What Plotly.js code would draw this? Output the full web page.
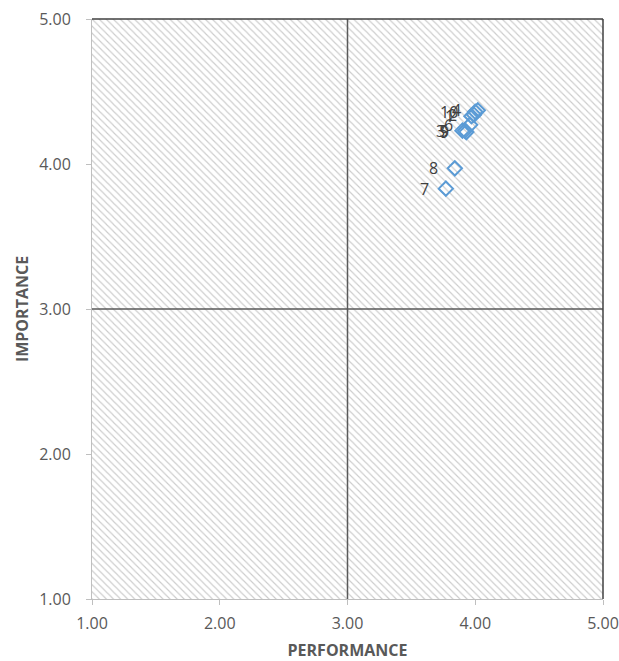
<!DOCTYPE html>
<html>
<head>
<meta charset="utf-8">
<script src="https://cdn.plot.ly/plotly-3.0.1.min.js"></script>
<style>html,body{margin:0;padding:0;background:#fff;}#chart{width:619px;height:661px;}</style>
</head>
<body>
<div id="chart"></div>
<script>
// Data
const labels = ["1", "2", "3", "4", "5", "6", "7", "8", "9", "10"];
const performance = [3.97, 3.99, 3.90, 4.02, 3.92, 3.96, 3.77, 3.84, 3.93, 4.00];
const importance  = [4.33, 4.34, 4.23, 4.37, 4.23, 4.27, 3.83, 3.97, 4.22, 4.36];
const xTicks = [1, 2, 3, 4, 5];
const yTicks = [1, 2, 3, 4, 5];
const xTickText = ["1.00", "2.00", "3.00", "4.00", "5.00"];
const yTickText = ["1.00", "2.00", "3.00", "4.00", "5.00"];
const xRange = [1, 5];
const yRange = [1, 5];
const midX = 3;  // quadrant divider
const midY = 3;

const FONT = 'Open Sans, Liberation Sans, sans-serif';

const bgTrace = {
  x: [xRange[0], xRange[1], xRange[1], xRange[0], xRange[0]],
  y: [yRange[0], yRange[0], yRange[1], yRange[1], yRange[0]],
  type: 'scatter', mode: 'none', fill: 'toself',
  fillcolor: 'rgba(255,255,255,0)',
  fillpattern: {shape: '\\', fgcolor: '#cccccc', bgcolor: '#ffffff', size: 5, solidity: 0.22},
  hoverinfo: 'skip', showlegend: false
};

const pts = {
  x: performance, y: importance,
  type: 'scatter', mode: 'markers',
  marker: {symbol: 'diamond-open', size: 11, color: '#5b9bd5', line: {width: 2, color: '#5b9bd5'}},
  showlegend: false, cliponaxis: false
};

// point labels placed to the left of each marker, built from the data arrays
const annotations = labels.map((t, i) => ({
  x: performance[i], y: importance[i], xref: 'x', yref: 'y',
  text: t, showarrow: false, xanchor: 'right', yanchor: 'middle',
  xshift: -15, font: {family: FONT, size: 16, color: '#404040'}
}));

const tickFont = {family: FONT, size: 16, color: '#595959'};
const titleFont = {family: FONT, size: 16, color: '#595959', weight: 'bold'};

const layout = {
  width: 619, height: 661,
  margin: {l: 92, r: 16, t: 19, b: 62, pad: 0},
  paper_bgcolor: '#ffffff', plot_bgcolor: '#ffffff',
  showlegend: false,
  xaxis: {
    range: xRange, tickvals: xTicks, ticktext: xTickText,
    showgrid: true, gridcolor: '#d9d9d9', griddash: 'dot', gridwidth: 1,
    zeroline: false, showline: true, linecolor: '#bfbfbf', linewidth: 1,
    ticks: 'outside', ticklen: 5, tickcolor: '#bfbfbf',
    tickfont: tickFont, ticklabelstandoff: 5,
    title: {text: 'PERFORMANCE', font: titleFont, standoff: 12}
  },
  yaxis: {
    range: yRange, tickvals: yTicks, ticktext: yTickText,
    showgrid: true, gridcolor: '#d9d9d9', griddash: 'dot', gridwidth: 1,
    zeroline: false, showline: true, linecolor: '#bfbfbf', linewidth: 1,
    ticks: 'outside', ticklen: 5, tickcolor: '#bfbfbf',
    tickfont: tickFont, ticklabelstandoff: 12,
    title: {text: 'IMPORTANCE', font: titleFont, standoff: 6}
  },
  annotations: annotations,
  shapes: [
    {type: 'line', xref: 'x', yref: 'paper', x0: midX, x1: midX, y0: 0, y1: 1, line: {color: '#595959', width: 1.5}},
    {type: 'line', xref: 'paper', yref: 'y', x0: 0, x1: 1, y0: midY, y1: midY, line: {color: '#595959', width: 1.5}},
    {type: 'line', xref: 'paper', yref: 'paper', x0: 0, x1: 1, y0: 1, y1: 1, line: {color: '#404040', width: 1.5}},
    {type: 'line', xref: 'paper', yref: 'paper', x0: 1, x1: 1, y0: 0, y1: 1, line: {color: '#404040', width: 1.5}}
  ]
};

Plotly.newPlot('chart', [bgTrace, pts], layout, {staticPlot: true, displayModeBar: false});
</script>
</body>
</html>
